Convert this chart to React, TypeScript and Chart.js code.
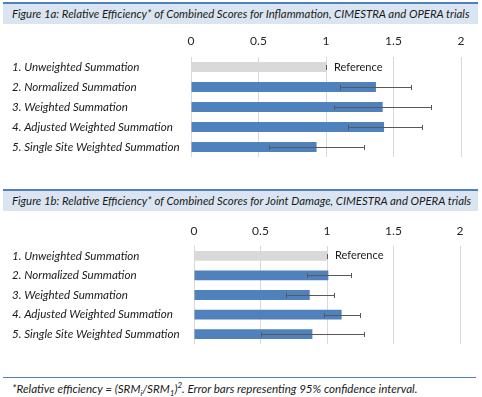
import React, { useEffect, useRef } from 'react';
import { Chart, registerables } from 'chart.js';

Chart.register(...registerables);

const categories = [
  '1. Unweighted Summation',
  '2. Normalized Summation',
  '3. Weighted Summation',
  '4. Adjusted Weighted Summation',
  '5. Single Site Weighted Summation',
];

const xTicks = [0, 0.5, 1, 1.5, 2];

const inflammationRE = [1, 1.37, 1.42, 1.43, 0.93];
const inflammationLow = [1, 1.1, 1.06, 1.16, 0.58];
const inflammationHigh = [1, 1.63, 1.78, 1.71, 1.28];

const jointRE = [1, 1.01, 0.87, 1.11, 0.89];
const jointLow = [1, 0.85, 0.69, 0.98, 0.5];
const jointHigh = [1, 1.18, 1.05, 1.25, 1.28];

const barColors = ['#d9d9d9', '#4f81bd', '#4f81bd', '#4f81bd', '#4f81bd'];
const referenceLabel = 'Reference';

const FONT = 'Lato, "Open Sans", sans-serif';

const errorBarPlugin = {
  id: 'errorBars',
  afterDatasetsDraw(chart: any, _args: any, opts: any) {
    const { ctx } = chart;
    const x = chart.scales.x;
    const meta = chart.getDatasetMeta(0);
    const values = chart.data.datasets[0].data as number[];
    ctx.save();
    ctx.strokeStyle = '#595959';
    ctx.lineWidth = 1;
    meta.data.forEach((bar: any, i: number) => {
      const y = Math.round(bar.y) + 0.5;
      const x1 = Math.round(x.getPixelForValue(opts.lows[i])) + 0.5;
      const x2 = Math.round(x.getPixelForValue(opts.highs[i])) + 0.5;
      ctx.beginPath();
      ctx.moveTo(x1, y);
      ctx.lineTo(x2, y);
      ctx.moveTo(x1, y - 2.5);
      ctx.lineTo(x1, y + 2.5);
      ctx.moveTo(x2, y - 2.5);
      ctx.lineTo(x2, y + 2.5);
      ctx.stroke();
    });
    const b0 = meta.data[0];
    ctx.fillStyle = '#1a1a1a';
    ctx.font = `11px ${FONT}`;
    ctx.textBaseline = 'middle';
    ctx.textAlign = 'left';
    ctx.fillText(referenceLabel, x.getPixelForValue(values[0]) + 8, b0.y);
    ctx.restore();
  },
};

function buildChart(
  canvas: HTMLCanvasElement,
  values: number[],
  lows: number[],
  highs: number[],
  cfg: { yWidth: number; xHeight: number; padRight: number; padBottom: number; tickPad: number }
) {
  return new Chart(canvas, {
    type: 'bar',
    data: {
      labels: categories,
      datasets: [
        {
          data: values,
          backgroundColor: barColors,
          borderWidth: 0,
          categoryPercentage: 1,
          barPercentage: 0.5,
        },
      ],
    },
    options: {
      indexAxis: 'y',
      responsive: false,
      animation: false,
      layout: { padding: { left: 12, right: cfg.padRight, top: 0, bottom: cfg.padBottom } },
      plugins: {
        legend: { display: false },
        tooltip: { enabled: false },
        errorBars: { lows, highs },
      } as any,
      scales: {
        x: {
          position: 'top',
          min: 0,
          max: 2,
          afterBuildTicks: (scale: any) => {
            scale.ticks = xTicks.map((v) => ({ value: v }));
          },
          afterFit: (scale: any) => {
            scale.height = cfg.xHeight;
            scale.paddingLeft = 0;
            scale.paddingRight = 0;
          },
          grid: { color: '#d9d9d9', drawTicks: false, lineWidth: 1 },
          border: { display: false },
          ticks: {
            padding: cfg.tickPad,
            color: '#262626',
            font: { family: FONT, size: 12 },
            callback: (v: any) => String(v),
          },
        },
        y: {
          afterFit: (scale: any) => {
            scale.width = cfg.yWidth;
            scale.paddingTop = 0;
            scale.paddingBottom = 0;
          },
          grid: { display: false, drawTicks: false },
          border: { display: false },
          ticks: {
            crossAlign: 'far',
            color: '#1a1a1a',
            font: { family: FONT, size: 11.6, style: 'italic' },
          },
        },
      },
    },
    plugins: [errorBarPlugin],
  } as any);
}

const titleStyle = (top: number): React.CSSProperties => ({
  position: 'absolute',
  left: 3,
  top,
  width: 475,
  height: 22,
  boxSizing: 'border-box',
  borderTop: '2px solid #4f81bd',
  background: '#dbe5f1',
  paddingLeft: 9,
  fontFamily: FONT,
  fontStyle: 'italic',
  fontSize: 11.4,
  lineHeight: '20px',
  color: '#1a1a1a',
  whiteSpace: 'nowrap',
  overflow: 'hidden',
});

const smallScript: React.CSSProperties = { fontSize: 8, lineHeight: 0 };

export default function App() {
  const ref1 = useRef<HTMLCanvasElement>(null);
  const ref2 = useRef<HTMLCanvasElement>(null);

  useEffect(() => {
    const c1 = buildChart(ref1.current!, inflammationRE, inflammationLow, inflammationHigh, {
      yWidth: 179,
      xHeight: 27,
      padRight: 21,
      padBottom: 3,
      tickPad: 9,
    });
    const c2 = buildChart(ref2.current!, jointRE, jointLow, jointHigh, {
      yWidth: 182,
      xHeight: 26,
      padRight: 22,
      padBottom: 3,
      tickPad: 8,
    });
    return () => {
      c1.destroy();
      c2.destroy();
    };
  }, []);

  return (
    <div style={{ position: 'absolute', left: 0, top: 0, width: 482, height: 397, background: '#fff' }}>
      <div style={titleStyle(2)}>
        Figure 1a: Relative Efficiency* of Combined Scores for Inflammation, CIMESTRA and OPERA trials
      </div>
      <canvas ref={ref1} width={482} height={130} style={{ position: 'absolute', left: 0, top: 30 }} />
      <div style={titleStyle(189)}>
        Figure 1b: Relative Efficiency* of Combined Scores for Joint Damage, CIMESTRA and OPERA trials
      </div>
      <canvas ref={ref2} width={482} height={127} style={{ position: 'absolute', left: 0, top: 220 }} />
      <div style={{ position: 'absolute', left: 3, top: 377, width: 473, height: 1, background: '#4f81bd' }} />
      <div
        style={{
          position: 'absolute',
          left: 12,
          top: 381,
          fontFamily: FONT,
          fontStyle: 'italic',
          fontSize: 11.6,
          lineHeight: '16px',
          color: '#1a1a1a',
          whiteSpace: 'nowrap',
        }}
      >
        *Relative efficiency = (SRM<sub style={smallScript}>i</sub>/SRM<sub style={smallScript}>1</sub>)
        <sup style={smallScript}>2</sup>. Error bars representing 95% confidence interval.
      </div>
    </div>
  );
}
